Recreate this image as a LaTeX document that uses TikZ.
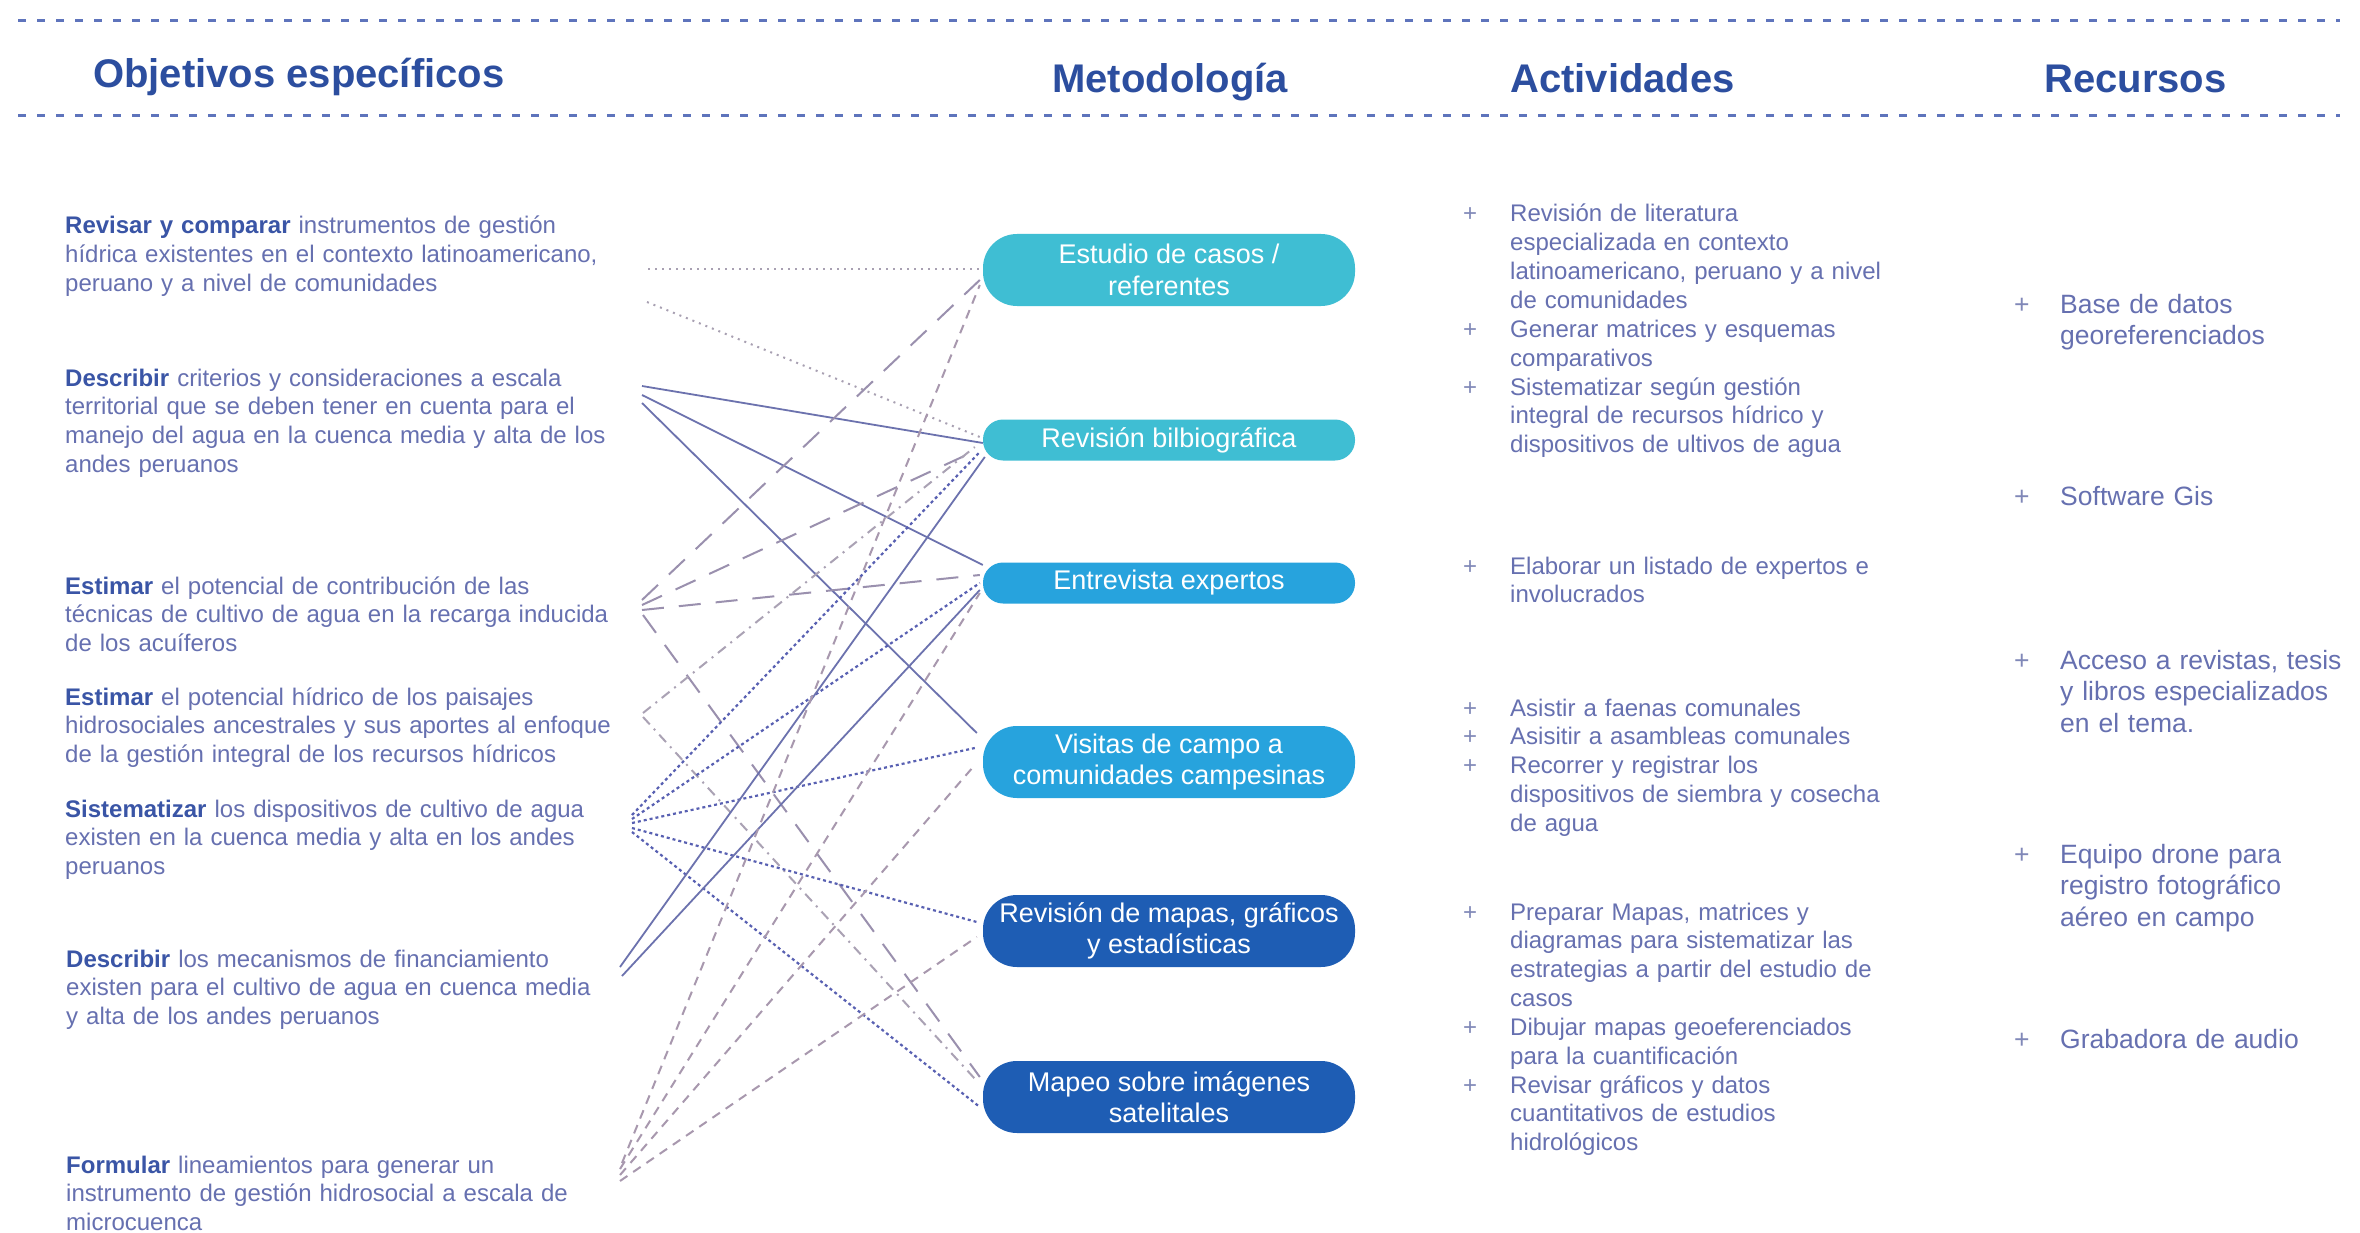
\documentclass[tikz,border=0pt]{standalone}
\usepackage{fontspec}
\setmainfont{Liberation Sans}
\usetikzlibrary{backgrounds}
\definecolor{headc}{HTML}{2C4E9F}
\definecolor{verbc}{HTML}{3A55A6}
\definecolor{bodyc}{HTML}{6670B0}
\definecolor{plusc}{HTML}{8088B8}
\definecolor{rulec}{HTML}{5E74BC}
\definecolor{mA}{HTML}{3FBED3}
\definecolor{mB}{HTML}{27A3DD}
\definecolor{mC}{HTML}{1E5DB4}
\definecolor{lnDot}{HTML}{A8A0B2}
\definecolor{lnSolid}{HTML}{6C72AE}
\definecolor{lnLong}{HTML}{9A90AE}
\definecolor{lnDashDot}{HTML}{AAA2B4}
\definecolor{lnBlue}{HTML}{5860B2}
\definecolor{lnShort}{HTML}{A898AE}
\newcommand{\objverb}[1]{{\color{verbc}\bfseries #1}}
\newcommand{\actplus}{\makebox[47pt][l]{\color{plusc}+}}
\newcommand{\actind}{\hspace*{47pt}}
\newcommand{\resplus}{\makebox[46pt][l]{\color{plusc}+}}
\newcommand{\resind}{\hspace*{46pt}}
\begin{document}
\begin{tikzpicture}[x=1pt,y=-1pt,
  headrule/.style={draw=rulec,line width=3pt,dash pattern=on 8pt off 11pt},
  heading/.style={inner sep=0pt,text=headc,font=\fontsize{40}{46}\selectfont\bfseries},
  objtext/.style={anchor=base west,inner sep=0pt,align=left,text width=620pt,text=bodyc,font=\fontsize{24}{28.9}\selectfont},
  acttext/.style={anchor=base west,inner sep=0pt,align=left,text width=460pt,text=bodyc,font=\fontsize{24}{28.85}\selectfont},
  restext/.style={anchor=base west,inner sep=0pt,align=left,text width=340pt,text=bodyc,font=\fontsize{26.5}{31.5}\selectfont},
  meth/.style={fill=#1,text=white,minimum width=372pt,inner sep=0pt,align=center,font=\fontsize{27}{31.6}\selectfont},
  pillone/.style={minimum height=41pt,rounded corners=20pt},
  pilltwo/.style={minimum height=72pt,rounded corners=34pt},
  cdot/.style={draw=lnDot,line width=2pt,dash pattern=on 2pt off 5pt},
  csolid/.style={draw=lnSolid,line width=1.8pt},
  clong/.style={draw=lnLong,line width=2pt,dash pattern=on 22pt off 15pt},
  cdashdot/.style={draw=lnDashDot,line width=2pt,dash pattern=on 10pt off 6pt on 2pt off 6pt},
  cblue/.style={draw=lnBlue,line width=2.2pt,dash pattern=on 3pt off 3pt},
  cshort/.style={draw=lnShort,line width=2pt,dash pattern=on 9pt off 7pt}
]
\useasboundingbox (0,0) rectangle (2360,1233);
\begin{scope}[on background layer]
\fill[white] (0,0) rectangle (2360,1233);
\end{scope}

% header rules
\draw[headrule] (18,21) -- (2340,21);
\draw[headrule] (18,116) -- (2340,116);

% headings
\node[heading,anchor=base west] (hobj) at (93,88) {Objetivos específicos};
\node[heading,anchor=base] (hmet) at (1170,93) {Metodología};
\node[heading,anchor=base west] (hact) at (1510,93) {Actividades};
\node[heading,anchor=base west] (hres) at (2044,93) {Recursos};

% objectives
\node[objtext] (ob1) at (65,234) {\objverb{Revisar y comparar} instrumentos de gestión\\hídrica existentes en el contexto latinoamericano,\\peruano y a nivel de comunidades};
\node[objtext] (ob2) at (65,386) {\objverb{Describir} criterios y consideraciones a escala\\territorial que se deben tener en cuenta para el\\manejo del agua en la cuenca media y alta de los\\andes peruanos};
\node[objtext] (ob3) at (65,594) {\objverb{Estimar} el potencial de contribución de las\\técnicas de cultivo de agua en la recarga inducida\\de los acuíferos};
\node[objtext] (ob4) at (65,705) {\objverb{Estimar} el potencial hídrico de los paisajes\\hidrosociales ancestrales y sus aportes al enfoque\\de la gestión integral de los recursos hídricos};
\node[objtext] (ob5) at (65,817) {\objverb{Sistematizar} los dispositivos de cultivo de agua\\existen en la cuenca media y alta en los andes\\peruanos};
\node[objtext] (ob6) at (66,967) {\objverb{Describir} los mecanismos de financiamiento\\existen para el cultivo de agua en cuenca media\\y alta de los andes peruanos};
\node[objtext] (ob7) at (66,1173) {\objverb{Formular} lineamientos para generar un\\instrumento de gestión hidrosocial a escala de\\microcuenca};

% methodology
\node[meth=mA,pilltwo] (est) at (1169,270) {Estudio de casos /\\referentes};
\node[meth=mA,pillone] (rb) at (1169,440) {Revisión bilbiográfica};
\node[meth=mB,pillone] (ent) at (1169,583) {Entrevista expertos};
\node[meth=mB,pilltwo] (vis) at (1169,762) {Visitas de campo a\\comunidades campesinas};
\node[meth=mC,pilltwo] (rm) at (1169,931) {Revisión de mapas, gráficos\\y estadísticas};
\node[meth=mC,pilltwo] (map) at (1169,1097) {Mapeo sobre imágenes\\satelitales};

% activities
\node[acttext] (ac1) at (1463,222) {\actplus Revisión de literatura\\\actind especializada en contexto\\\actind latinoamericano, peruano y a nivel\\\actind de comunidades\\\actplus Generar matrices y esquemas\\\actind comparativos\\\actplus Sistematizar según gestión\\\actind integral de recursos hídrico y\\\actind dispositivos de ultivos de agua};
\node[acttext] (ac2) at (1463,574) {\actplus Elaborar un listado de expertos e\\\actind involucrados};
\node[acttext] (ac3) at (1463,716) {\actplus Asistir a faenas comunales\\\actplus Asisitir a asambleas comunales\\\actplus Recorrer y registrar los\\\actind dispositivos de siembra y cosecha\\\actind de agua};
\node[acttext] (ac4) at (1463,920) {\actplus Preparar Mapas, matrices y\\\actind diagramas para sistematizar las\\\actind estrategias a partir del estudio de\\\actind casos\\\actplus Dibujar mapas geoeferenciados\\\actind para la cuantificación\\\actplus Revisar gráficos y datos\\\actind cuantitativos de estudios\\\actind hidrológicos};

% resources
\node[restext] (re1) at (2014,313) {\resplus Base de datos\\\resind georeferenciados};
\node[restext] (re2) at (2014,505) {\resplus Software Gis};
\node[restext] (re3) at (2014,669) {\resplus Acceso a revistas, tesis\\\resind y libros especializados\\\resind en el tema.};
\node[restext] (re4) at (2014,863) {\resplus Equipo drone para\\\resind registro fotográfico\\\resind aéreo en campo};
\node[restext] (re5) at (2014,1048) {\resplus Grabadora de audio};

% connector origins
\coordinate (o1a) at (648,269);
\coordinate (o1b) at (647,302);
\coordinate (o2a) at (642,386);
\coordinate (o2b) at (642,395);
\coordinate (o2c) at (642,403);
\coordinate (o3a) at (642,600);
\coordinate (o3b) at (642,605);
\coordinate (o3c) at (642,610);
\coordinate (o3d) at (643,615);
\coordinate (o4a) at (643,713);
\coordinate (o4b) at (643,717);
\coordinate (o5a) at (632,815);
\coordinate (o5b) at (632,819);
\coordinate (o5c) at (632,823);
\coordinate (o5d) at (632,828);
\coordinate (o5e) at (632,832);
\coordinate (o6a) at (620,967);
\coordinate (o6b) at (622,976);
\coordinate (o7a) at (622,1163);
\coordinate (o7b) at (620,1169);
\coordinate (o7c) at (620,1175);
\coordinate (o7d) at (620,1181);

\begin{scope}[on background layer]
% objective 1
\draw[cdot] (o1a) -- ([yshift=1pt]est.west);
\draw[cdot] (o1b) -- ([xshift=-3pt,yshift=3pt]rb.west);
% objective 2
\draw[csolid] (o2a) -- ([yshift=-3pt]rb.west);
\draw[csolid] (o2b) -- ([yshift=18pt]ent.west);
\draw[csolid] (o2c) -- ([xshift=-6pt,yshift=29pt]vis.west);
% objective 3
\draw[clong] (o3a) -- ([xshift=-3pt,yshift=-10pt]est.west);
\draw[clong] (o3b) -- ([xshift=-10pt,yshift=-12pt]rb.west);
\draw[clong] (o3c) -- ([xshift=-3pt,yshift=8pt]ent.west);
\draw[clong] (o3d) -- ([xshift=-3pt,yshift=20pt]map.west);
% objective 4
\draw[cdashdot] (o4a) -- ([xshift=-8pt,yshift=-7pt]rb.west);
\draw[cdashdot] (o4b) -- ([xshift=-5pt,yshift=15pt]map.west);
% objective 5
\draw[cblue] (o5a) -- ([xshift=-3pt,yshift=-12pt]rb.west);
\draw[cblue] (o5b) -- ([xshift=-3pt]ent.west);
\draw[cblue] (o5c) -- ([xshift=-8pt,yshift=14pt]vis.west);
\draw[cblue] (o5d) -- ([xshift=-6pt,yshift=9pt]rm.west);
\draw[cblue] (o5e) -- ([xshift=-3pt,yshift=-10pt]map.west);
% objective 6
\draw[csolid] (o6a) -- ([xshift=2pt,yshift=-17pt]rb.west);
\draw[csolid] (o6b) -- ([xshift=-3pt,yshift=-7pt]ent.west);
% objective 7
\draw[cshort] (o7a) -- ([xshift=-3pt,yshift=-15pt]est.west);
\draw[cshort] (o7b) -- ([xshift=-3pt,yshift=-10pt]ent.west);
\draw[cshort] (o7c) -- ([xshift=-8pt,yshift=-3pt]vis.west);
\draw[cshort] (o7d) -- ([xshift=-6pt,yshift=-6pt]rm.west);
\end{scope}
\end{tikzpicture}
\end{document}
